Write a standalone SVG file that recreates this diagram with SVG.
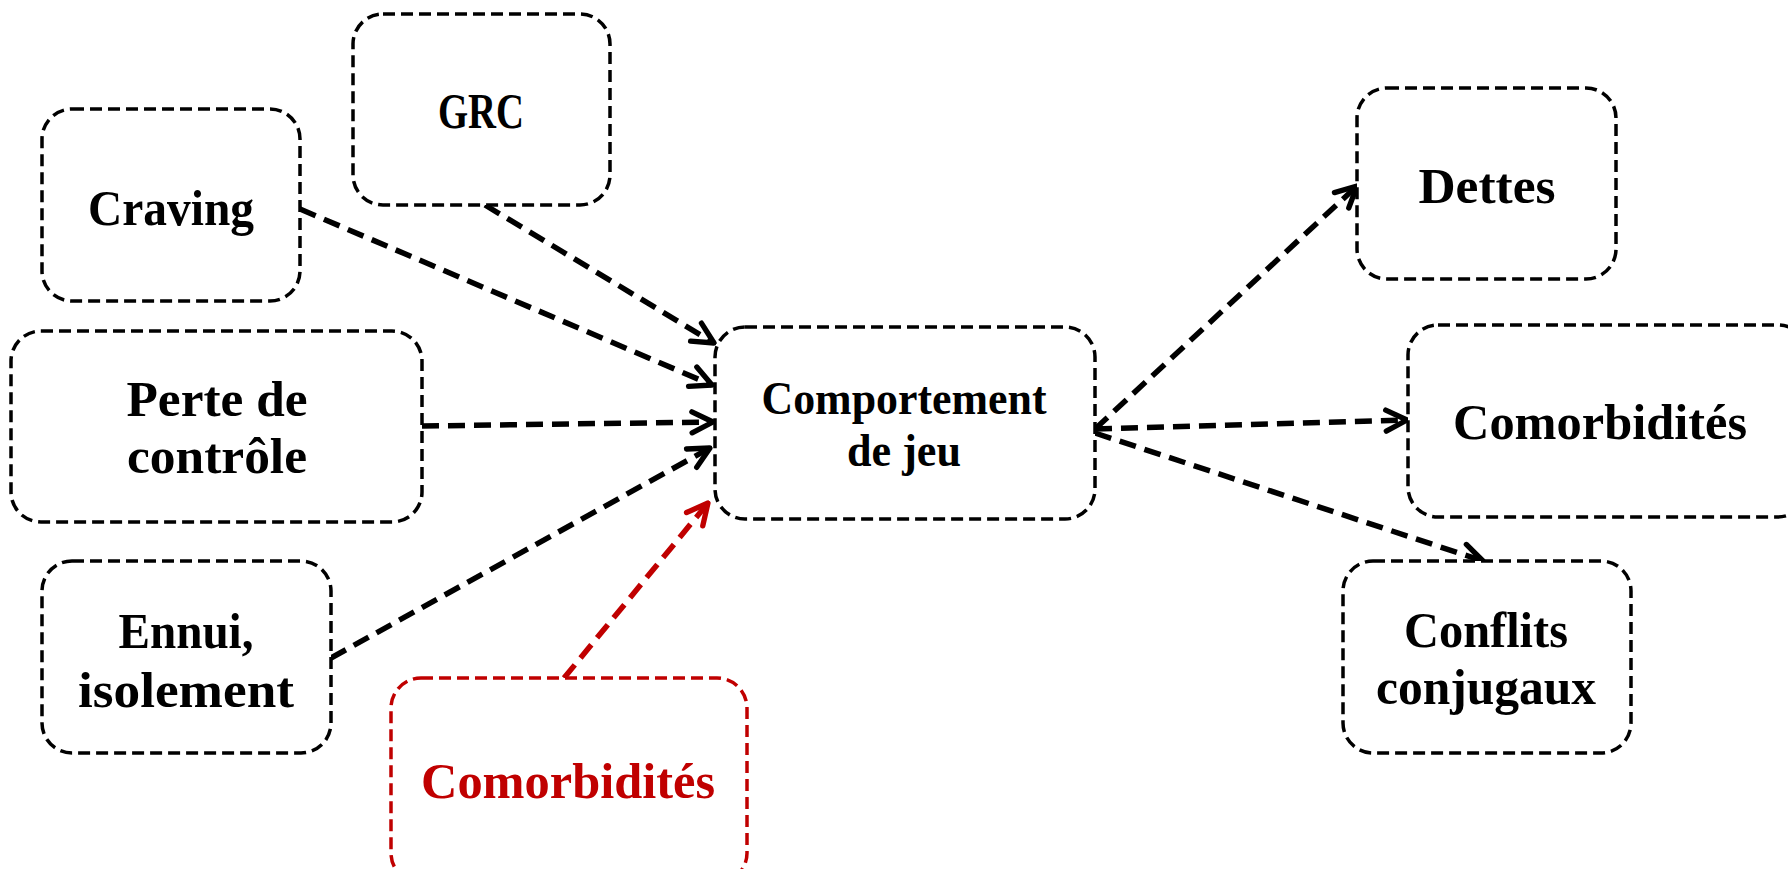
<svg xmlns="http://www.w3.org/2000/svg" width="1788" height="869" viewBox="0 0 1788 869">
<style>
.box{fill:#fff;stroke:#000;stroke-width:3.5;stroke-dasharray:12 6}
.red{stroke:#C00000}
.lbl{font-family:"Liberation Serif","Times New Roman",serif;font-weight:bold;font-size:50px;text-anchor:middle;fill:#000}
.sm{font-size:46px}
.lblr{fill:#C00000}
.con{fill:none;stroke:#000;stroke-width:5.5;stroke-dasharray:17 9}
.conr{stroke:#C00000}
</style>
<defs>
<marker id="ah" viewBox="0 0 20 20" refX="18" refY="10" markerWidth="28" markerHeight="28" markerUnits="userSpaceOnUse" orient="auto">
<path d="M3,2.5 L18,10 L3,17.5" fill="none" stroke="#000" stroke-width="3.8" stroke-linecap="round" stroke-linejoin="round"/>
</marker>
<marker id="ahr" viewBox="0 0 20 20" refX="18" refY="10" markerWidth="28" markerHeight="28" markerUnits="userSpaceOnUse" orient="auto">
<path d="M3,2.5 L18,10 L3,17.5" fill="none" stroke="#C00000" stroke-width="3.8" stroke-linecap="round" stroke-linejoin="round"/>
</marker>
</defs>
<rect width="1788" height="869" fill="#fff"/>
<g id="connectors">
<line class="con" x1="485" y1="205" x2="714" y2="343" marker-end="url(#ah)"/>
<line class="con" x1="300" y1="209" x2="712" y2="385" marker-end="url(#ah)"/>
<line class="con" x1="422" y1="426" x2="713" y2="422" marker-end="url(#ah)"/>
<line class="con" x1="331" y1="658" x2="710" y2="448" marker-end="url(#ah)"/>
<line class="con conr" x1="564" y1="678" x2="708" y2="503" marker-end="url(#ahr)"/>
<line class="con" x1="1095" y1="429" x2="1357" y2="186" marker-end="url(#ah)"/>
<line class="con" x1="1095" y1="429" x2="1407" y2="420" marker-end="url(#ah)"/>
<line class="con" x1="1095" y1="433" x2="1483" y2="561" marker-end="url(#ah)"/>
</g>
<g id="grc"><rect class="box" x="353" y="14" width="257" height="191" rx="30"/><text class="lbl" x="481" y="128" textLength="86" lengthAdjust="spacingAndGlyphs">GRC</text></g>
<g id="craving"><rect class="box" x="42" y="109" width="258" height="192" rx="30"/><text class="lbl" x="171" y="225" textLength="166" lengthAdjust="spacingAndGlyphs">Craving</text></g>
<g id="perte"><rect class="box" x="11" y="331" width="411" height="191" rx="30"/><text class="lbl" x="217" y="416" textLength="181" lengthAdjust="spacingAndGlyphs">Perte de</text><text class="lbl" x="217" y="473" textLength="180" lengthAdjust="spacingAndGlyphs">contrôle</text></g>
<g id="ennui"><rect class="box" x="42" y="561" width="289" height="192" rx="30"/><text class="lbl" x="186" y="648" textLength="135" lengthAdjust="spacingAndGlyphs">Ennui,</text><text class="lbl" x="186" y="707" textLength="216" lengthAdjust="spacingAndGlyphs">isolement</text></g>
<g id="comorb-left"><rect class="box red" x="391" y="678" width="356" height="205" rx="30"/><text class="lbl lblr" x="568" y="798" textLength="294" lengthAdjust="spacingAndGlyphs">Comorbidités</text></g>
<g id="comportement"><rect class="box" x="715" y="327" width="380" height="192" rx="30"/><text class="lbl sm" x="904" y="414" textLength="285" lengthAdjust="spacingAndGlyphs">Comportement</text><text class="lbl sm" x="904" y="466" textLength="114" lengthAdjust="spacingAndGlyphs">de jeu</text></g>
<g id="dettes"><rect class="box" x="1357" y="88" width="259" height="191" rx="30"/><text class="lbl" x="1487" y="203" textLength="137" lengthAdjust="spacingAndGlyphs">Dettes</text></g>
<g id="comorb-right"><rect class="box" x="1408" y="325" width="400" height="192" rx="30"/><text class="lbl" x="1600" y="439" textLength="294" lengthAdjust="spacingAndGlyphs">Comorbidités</text></g>
<g id="conflits"><rect class="box" x="1343" y="561" width="288" height="192" rx="30"/><text class="lbl" x="1486" y="647" textLength="164" lengthAdjust="spacingAndGlyphs">Conflits</text><text class="lbl" x="1486" y="704" textLength="220" lengthAdjust="spacingAndGlyphs">conjugaux</text></g>
</svg>
